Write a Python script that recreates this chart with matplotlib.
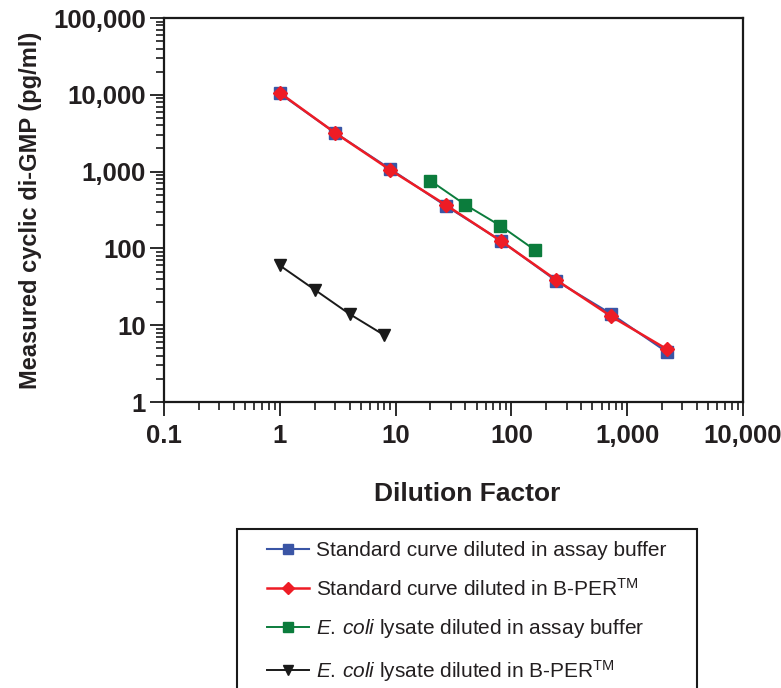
import matplotlib
matplotlib.use("Agg")
import matplotlib.pyplot as plt
from matplotlib.patches import Rectangle
from matplotlib.ticker import FixedLocator, FixedFormatter, LogLocator, NullFormatter

plt.rcParams['font.family'] = ['Liberation Sans', 'DejaVu Sans']
plt.rcParams['mathtext.fontset'] = 'custom'
plt.rcParams['mathtext.rm'] = 'Liberation Sans'
plt.rcParams['mathtext.it'] = 'Liberation Sans:italic'
plt.rcParams['mathtext.bf'] = 'Liberation Sans:bold'

# Data
std_dilution = [1, 3, 9, 27, 81, 243, 729, 2187]
std_assay = [10400, 3200, 1080, 360, 126, 38, 14, 4.5]
std_bper = [10600, 3200, 1050, 370, 125, 39, 13, 4.9]
lys_dilution_assay = [20, 40, 80, 160]
lys_assay = [760, 370, 198, 95]
lys_dilution_bper = [1, 2, 4, 8]
lys_bper = [60, 29, 14, 7.4]

x_ticks = [0.1, 1, 10, 100, 1000, 10000]
x_ticklabels = ["0.1", "1", "10", "100", "1,000", "10,000"]
y_ticks = [1, 10, 100, 1000, 10000, 100000]
y_ticklabels = ["1", "10", "100", "1,000", "10,000", "100,000"]

labels = [
    "Standard curve diluted in assay buffer",
    "Standard curve diluted in B-PER$^{\\mathrm{TM}}$",
    "$\\mathit{E.\\,coli}$ lysate diluted in assay buffer",
    "$\\mathit{E.\\,coli}$ lysate diluted in B-PER$^{\\mathrm{TM}}$",
]

W, H = 781, 688
fig = plt.figure(figsize=(W / 100, H / 100), dpi=100)
ax = fig.add_axes([164 / W, 1 - 402 / H, (743 - 164) / W, (402 - 18) / H])

l1, = ax.plot(std_dilution, std_assay, color='#3a55a5', lw=1.5, marker='s', ms=9,
              mfc='#3a55a5', mec='#3a55a5', label=labels[0])
l2, = ax.plot(std_dilution, std_bper, color='#ee1c25', lw=1.8, marker='D', ms=7.5,
              mfc='#ee1c25', mec='#ee1c25', label=labels[1])
l3, = ax.plot(lys_dilution_assay, lys_assay, color='#0b7c3c', lw=1.4, marker='s', ms=9,
              mfc='#0b7c3c', mec='#0b7c3c', label=labels[2])
l4, = ax.plot(lys_dilution_bper, lys_bper, color='#1a1a1a', lw=1.4, marker='v', ms=9,
              mfc='#1a1a1a', mec='#1a1a1a', label=labels[3])

ax.set_xscale('log')
ax.set_yscale('log')
ax.set_xlim(0.1, 10000)
ax.set_ylim(1, 100000)

ax.xaxis.set_major_locator(FixedLocator(x_ticks))
ax.xaxis.set_major_formatter(FixedFormatter(x_ticklabels))
ax.yaxis.set_major_locator(FixedLocator(y_ticks))
ax.yaxis.set_major_formatter(FixedFormatter(y_ticklabels))
ax.xaxis.set_minor_locator(LogLocator(base=10, subs=range(2, 10), numticks=20))
ax.yaxis.set_minor_locator(LogLocator(base=10, subs=range(2, 10), numticks=20))
ax.xaxis.set_minor_formatter(NullFormatter())
ax.yaxis.set_minor_formatter(NullFormatter())

ax.tick_params(which='major', direction='out', length=10, width=1.3, color='#1a1a1a')
ax.tick_params(which='minor', direction='out', length=5.5, width=1.2, color='#1a1a1a')
ax.tick_params(axis='x', which='major', pad=6)
ax.tick_params(axis='y', which='major', pad=3)
for lab in ax.get_xticklabels() + ax.get_yticklabels():
    lab.set_fontsize(18.5)
    lab.set_fontweight('bold')
    lab.set_color('#231f20')

for s in ax.spines.values():
    s.set_linewidth(1.6)
    s.set_color('#1a1a1a')

ax.set_xlabel("Dilution Factor", fontsize=19, fontweight='bold', color='#231f20')
ax.set_ylabel("Measured cyclic di-GMP (pg/ml)", fontsize=17, fontweight='bold', color='#231f20', labelpad=8)
ax.xaxis.set_label_coords(0.523, -0.208)

leg = fig.legend(handles=[l1, l2, l3, l4], loc='upper left',
                 bbox_to_anchor=(267 / W, 1 - 541 / H), fontsize=15,
                 frameon=False, borderpad=0, labelspacing=0.85,
                 handlelength=2.0, handletextpad=0.35, borderaxespad=0,
                 markerscale=0.8)
for t in leg.get_texts():
    t.set_color('#231f20')

frame = Rectangle((237 / W, -0.05), (697 - 237) / W, 0.05 + (688 - 529) / H,
                  transform=fig.transFigure, fill=False, edgecolor='#1a1a1a',
                  linewidth=1.5)
fig.patches.append(frame)

fig.savefig("out.png", dpi=100)
